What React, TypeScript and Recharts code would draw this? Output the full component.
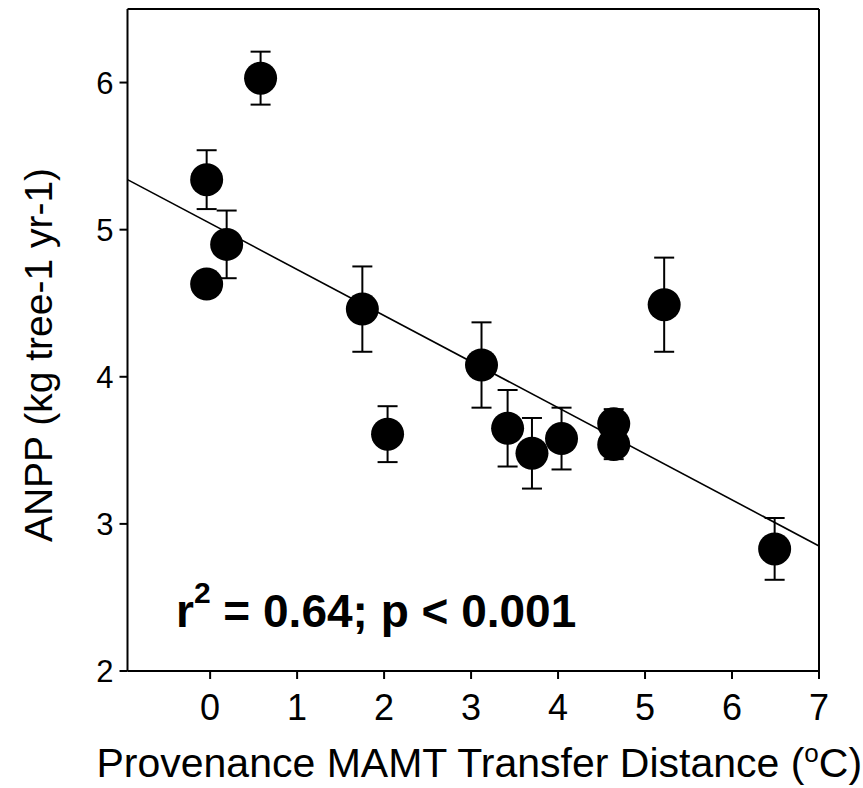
import { ScatterChart, Scatter, XAxis, YAxis, ErrorBar, ReferenceLine, Customized, Label } from 'recharts';

// provenance MAMT transfer distance (ºC)
const transferDistance = [-0.04, -0.04, 0.19, 0.58, 1.75, 2.04, 3.12, 3.42, 3.7, 4.04, 4.64, 4.64, 5.22, 6.49];
// ANPP (kg tree-1 yr-1) and its standard error
const anpp = [5.34, 4.63, 4.9, 6.03, 4.46, 3.61, 4.08, 3.65, 3.48, 3.58, 3.68, 3.54, 4.49, 2.83];
const anppErr = [0.2, 0.08, 0.23, 0.18, 0.29, 0.19, 0.29, 0.26, 0.24, 0.21, 0.1, 0.1, 0.32, 0.21];

// fitted regression line, end points
const fitX = [-0.95, 7];
const fitY = [5.34, 2.85];

const xTicks = [0, 1, 2, 3, 4, 5, 6, 7];
const yTicks = [2, 3, 4, 5, 6];

const points = transferDistance.map((x, i) => ({ x, y: anpp[i], err: anppErr[i] }));
const fitSegment = fitX.map((x, i) => ({ x, y: fitY[i] }));

const FONT = '"Liberation Sans", Arial, sans-serif';

function Dot(props: any) {
  return <circle cx={props.cx} cy={props.cy} r={16.5} fill="#000" />;
}

function Annotation() {
  return (
    <text x={176} y={627} fontFamily={FONT} fontWeight="bold" fontSize={46} fill="#000">
      r<tspan fontSize={30} dy={-24}>2</tspan>
      <tspan dy={24}> = 0.64; p &lt; 0.001</tspan>
    </text>
  );
}

export default function App() {
  return (
    <div style={{ position: 'absolute', left: 0, top: 0, background: '#fff' }}>
      <ScatterChart width={863} height={788} margin={{ top: 9, right: 44, bottom: 0, left: 0 }}>
        <XAxis
          type="number"
          dataKey="x"
          domain={[-0.95, 7]}
          ticks={xTicks}
          allowDataOverflow
          height={117}
          tickSize={8}
          tickMargin={15}
          stroke="#000"
          strokeWidth={2}
          tick={{ fill: '#000', fontSize: 36, fontFamily: FONT }}
        >
          <Label
            content={({ viewBox }: any) => (
              <text x={viewBox.x + viewBox.width / 2 + 6} y={viewBox.y + 106} textAnchor="middle" fontFamily={FONT} fontSize={41} fill="#000">
                Provenance MAMT Transfer Distance (<tspan fontSize={26} dy={-15}>o</tspan>
                <tspan dy={15}>C)</tspan>
              </text>
            )}
          />
        </XAxis>
        <YAxis
          type="number"
          dataKey="y"
          domain={[2, 6.5]}
          ticks={yTicks}
          allowDataOverflow
          width={127.5}
          tickSize={8}
          tickMargin={6}
          stroke="#000"
          strokeWidth={2}
          tick={{ fill: '#000', fontSize: 31, fontFamily: FONT }}
        >
          <Label
            content={({ viewBox }: any) => (
              <text
                x={52}
                y={viewBox.y + viewBox.height / 2 + 15}
                transform={`rotate(-90 52 ${viewBox.y + viewBox.height / 2 + 15})`}
                textAnchor="middle"
                fontFamily={FONT}
                fontSize={39}
                fill="#000"
              >
                ANPP (kg tree-1 yr-1)
              </text>
            )}
          />
        </YAxis>
        <ReferenceLine y={6.5} stroke="#000" strokeWidth={2} />
        <ReferenceLine x={7} stroke="#000" strokeWidth={2} />
        <ReferenceLine segment={fitSegment} stroke="#000" strokeWidth={1.6} />
        <Scatter data={points} shape={<Dot />} isAnimationActive={false}>
          <ErrorBar dataKey="err" direction="y" width={10} stroke="#000" strokeWidth={2} />
        </Scatter>
        <Customized component={<Annotation />} />
      </ScatterChart>
    </div>
  );
}
